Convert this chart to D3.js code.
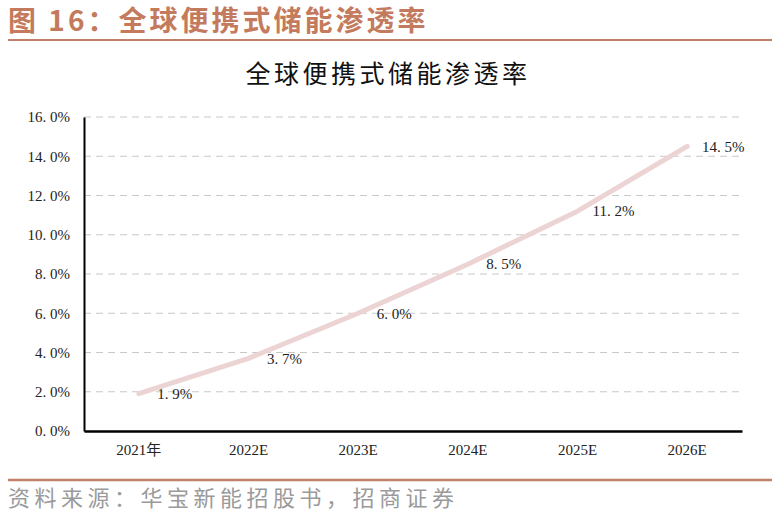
<!DOCTYPE html>
<html>
<head>
<meta charset="utf-8">
<script src="https://cdn.jsdelivr.net/npm/d3@7"></script>
<style>
  body { margin: 0; background: #fff; }
  .chart { width: 772px; height: 519px; }
  text { font-family: "Liberation Serif", "Noto Sans CJK SC", serif; }
</style>
</head>
<body>
<div class="chart"></div>
<script>
// values
const years = ["2021年", "2022E", "2023E", "2024E", "2025E", "2026E"];
const penetration = [1.9, 3.7, 6.0, 8.5, 11.2, 14.5];
const yTicks = [0, 2, 4, 6, 8, 10, 12, 14, 16];

let chart = {};

chart.margin = { top: 117, right: 30, bottom: 88, left: 84 };
chart.width = 772 - chart.margin.left - chart.margin.right;
chart.height = 519 - chart.margin.top - chart.margin.bottom;

chart.svg = d3.select(".chart").append("svg")
    .attr("width", 772)
    .attr("height", 519);

// header
chart.svg.append("text")
    .attr("x", 8).attr("y", 31)
    .style("font-family", "'Noto Sans CJK SC', sans-serif")
    .style("font-weight", "bold")
    .style("font-size", "28px")
    .style("letter-spacing", "3px")
    .style("fill", "#c47a5c")
    .text("图 16：全球便携式储能渗透率");

chart.svg.append("line")
    .attr("x1", 8).attr("x2", 772)
    .attr("y1", 40).attr("y2", 40)
    .style("stroke", "#c0806a")
    .style("stroke-width", 2);

// chart title
chart.svg.append("text")
    .attr("x", 388).attr("y", 83)
    .attr("text-anchor", "middle")
    .style("font-family", "'Noto Sans CJK SC', sans-serif")
    .style("font-size", "25px")
    .style("letter-spacing", "3.5px")
    .style("fill", "#111")
    .text("全球便携式储能渗透率");

chart.plot = chart.svg.append("g")
    .attr("transform", `translate(${chart.margin.left},${chart.margin.top})`);

chart.x = d3.scaleBand().domain(years).range([0, chart.width]);
chart.y = d3.scaleLinear().domain([0, 16]).range([chart.height, 0]);

// gridlines
chart.plot.selectAll("line.grid")
    .data(yTicks.filter(d => d > 0))
    .enter().append("line")
    .attr("class", "grid")
    .attr("x1", 0).attr("x2", chart.width)
    .attr("y1", d => chart.y(d)).attr("y2", d => chart.y(d))
    .style("stroke", "#c8c8c8")
    .style("stroke-width", 1)
    .style("stroke-dasharray", "7,5");

// y axis
let yAxis = chart.plot.append("g")
    .call(d3.axisLeft(chart.y).tickValues(yTicks).tickSize(0).tickPadding(14)
        .tickFormat(d => d.toFixed(1).replace(".", ". ") + "%"));
yAxis.select(".domain").style("stroke", "#000").style("stroke-width", 2);
yAxis.selectAll("text")
    .style("font-size", "15px")
    .style("fill", "#222")
    .style("font-family", "'Liberation Serif', serif");

// x axis
let xAxis = chart.plot.append("g")
    .attr("transform", `translate(0,${chart.height})`)
    .call(d3.axisBottom(chart.x).tickSize(0).tickPadding(13));
xAxis.select(".domain").style("stroke", "#000").style("stroke-width", 2.5);
xAxis.selectAll("text")
    .style("font-size", "15px")
    .style("fill", "#222")
    .style("font-family", "'Liberation Serif', 'Noto Sans CJK SC', serif");

// line
let cx = d => chart.x(d) + chart.x.bandwidth() / 2;
let line = d3.line()
    .x((d, i) => cx(years[i]))
    .y(d => chart.y(d));

chart.plot.append("path")
    .datum(penetration)
    .attr("d", line)
    .style("fill", "none")
    .style("stroke", "#edd4d4")
    .style("stroke-width", 5)
    .style("stroke-linejoin", "round")
    .style("stroke-linecap", "round");

// data labels
chart.plot.selectAll("text.lbl")
    .data(penetration)
    .enter().append("text")
    .attr("class", "lbl")
    .attr("x", (d, i) => cx(years[i]) + 36)
    .attr("y", d => chart.y(d))
    .attr("dy", "0.35em")
    .attr("text-anchor", "middle")
    .style("font-size", "15px")
    .style("fill", "#222")
    .text(d => d.toFixed(1).replace(".", ". ") + "%");

// footer
chart.svg.append("line")
    .attr("x1", 8).attr("x2", 772)
    .attr("y1", 480).attr("y2", 480)
    .style("stroke", "#c0806a")
    .style("stroke-width", 2.5);

chart.svg.append("text")
    .attr("x", 8).attr("y", 506)
    .style("font-family", "'Noto Sans CJK SC', sans-serif")
    .style("font-size", "22px")
    .style("letter-spacing", "4.5px")
    .style("fill", "#9a9a9a")
    .text("资料来源：华宝新能招股书，招商证券");
</script>
</body>
</html>
